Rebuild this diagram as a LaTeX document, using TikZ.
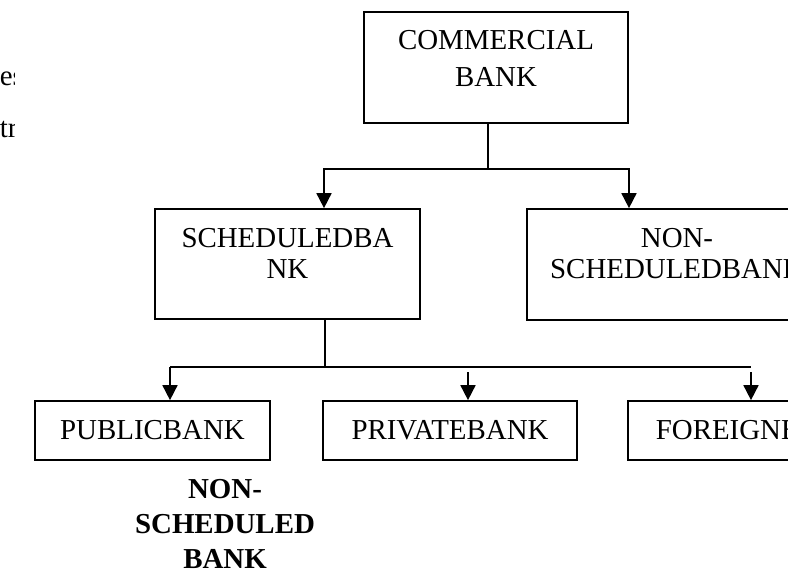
\documentclass[tikz,border=0pt]{standalone}
\usepackage{fontspec}
\setmainfont{Liberation Serif}
\usetikzlibrary{arrows.meta,positioning}

\begin{document}
\begin{tikzpicture}[x=0.5pt,y=-0.5pt,line width=0.85pt,
    >={Triangle[length=7.5pt,width=7.5pt]},
    box/.style={draw,inner sep=0pt},
    txt/.style={inner sep=0pt,align=center,font=\fontsize{14.45}{15.5}\selectfont}]
  \useasboundingbox (0,0) rectangle (788,574);
  \clip (0,0) rectangle (788,574);

  % scraps of text at the left margin
  \begin{scope}
    \clip (0,0) rectangle (14,150);
    \node[txt,anchor=base west] (scrap1) at (-1,85) {es};
    \node[txt,anchor=base west] (scrap2) at (-1,137) {tr};
  \end{scope}

  % boxes
  \node[box,minimum width=132pt,minimum height=55.5pt] (comm)     at (496,67.5) {};
  \node[box,minimum width=132.5pt,minimum height=55pt] (sched)    at (287.5,264) {};
  \node[box,minimum width=150pt,minimum height=55.5pt] (nonsched) at (677,264.5) {};
  \node[box,minimum width=117.5pt,minimum height=29.5pt] (pub)    at (152.5,430.5) {};
  \node[box,minimum width=127pt,minimum height=29.5pt] (priv)     at (450,430.5) {};
  \node[box,minimum width=131pt,minimum height=29.5pt] (fgn)      at (759,430.5) {};

  % texts
  \node[txt,font=\fontsize{14.45}{18.5}\selectfont,below=9pt of comm.north] (commtxt) {COMMERCIAL\\BANK};
  \node[txt,below=9.5pt of sched.north] (schedtxt) {SCHEDULEDBA\\NK};
  \node[txt,below=9.5pt of nonsched.north] (nonschedtxt) {NON-\\SCHEDULEDBANK};
  \node[txt] (pubtxt) at (pub) {PUBLICBANK};
  \node[txt] (privtxt) at (priv) {PRIVATEBANK};
  \node[txt,anchor=west] (fgntxt) at (655,430.5) {FOREIGNBANK};
  \node[txt,font=\fontsize{14.45}{17.5}\selectfont\bfseries] (note) at (225,524) {NON-\\SCHEDULED\\BANK};

  % connectors
  \coordinate (j1) at (488,169);
  \coordinate (a1) at (324,169);
  \coordinate (a2) at (629,169);
  \draw (comm.south -| j1) -- (j1);
  \draw[->] (j1) -- (a1) -- (a1 |- sched.north);
  \draw[->] (j1) -- (a2) -- (a2 |- nonsched.north);

  \coordinate (j2) at (325,367);
  \coordinate (b1) at (170,367);
  \coordinate (b2) at (751,367);
  \coordinate (b3) at (468,372);
  \coordinate (b4) at (751,372);
  \draw (sched.south -| j2) -- (j2);
  \draw (b1) -- (b2);
  \draw[->] (b1) -- (b1 |- pub.north);
  \draw[->] (b3) -- (b3 |- priv.north);
  \draw[->] (b4) -- (b4 |- fgn.north);
\end{tikzpicture}
\end{document}
